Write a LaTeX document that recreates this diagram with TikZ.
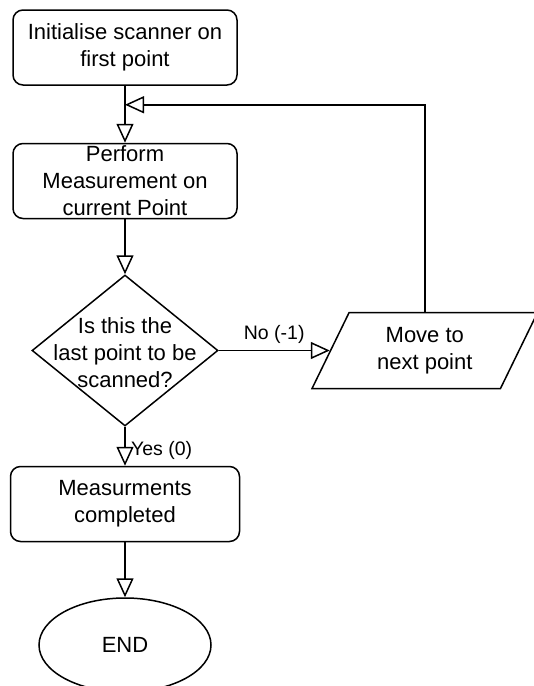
\documentclass[tikz,border=0pt]{standalone}
\usepackage{fontspec}
\setmainfont{Liberation Sans}
\usetikzlibrary{arrows.meta,positioning,shapes.geometric}

\begin{document}
\begin{tikzpicture}[
    x=1pt,y=1pt,
    node distance=55pt,
    every node/.style={font=\fontsize{22}{27}\selectfont},
    process/.style={draw,rounded corners=10pt,minimum width=224pt,minimum height=75pt,align=center,inner sep=0pt,line width=1.5pt},
    decision/.style={draw,diamond,minimum width=186pt,minimum height=151pt,inner sep=0pt,line width=1.5pt},
    io/.style={draw,trapezium,trapezium left angle=63.4,trapezium right angle=116.6,trapezium stretches=true,minimum width=226pt,minimum height=76pt,align=center,inner sep=0pt,line width=1.5pt},
    terminal/.style={draw,ellipse,minimum width=172pt,minimum height=94pt,inner sep=0pt,line width=1.5pt},
    flow/.style={line width=1.5pt,-{Triangle[open,length=19pt,width=17pt]}},
    edgelabel/.style={font=\fontsize{19.5}{23}\selectfont}
  ]
    \useasboundingbox (0,0) rectangle (534,-686);

    \node[process] (init) at (125,-47.5) {Initialise scanner on\\first point};
    \node[process,below=57pt of init] (measure) {Perform\\Measurement on\\current Point};
    \node[decision,below=of measure,label={[align=center,yshift=-2pt]center:Is this the\\last point to be\\scanned?}] (check) {};
    \node[io,right=111pt of check] (move) {Move to\\next point};
    \node[process,below=39pt of check,minimum width=229pt] (done) {Measurments\\completed};
    \node[terminal,below=of done] (end) {END};

    \path (init.south) ++(0,-19) coordinate (join);

    \draw[flow] (init.south) -- (measure.north);
    \draw[flow] (move.north) |- (join);
    \draw[flow] (measure.south) -- (check.north);
    \draw[flow] (check.east) -- node[above,edgelabel,yshift=3pt] {No (-1)} (move.west);
    \draw[flow] (check.south) -- node[pos=0.6,right,edgelabel,xshift=2pt] {Yes (0)} (done.north);
    \draw[flow] (done.south) -- (end.north);
  \end{tikzpicture}
\end{document}
